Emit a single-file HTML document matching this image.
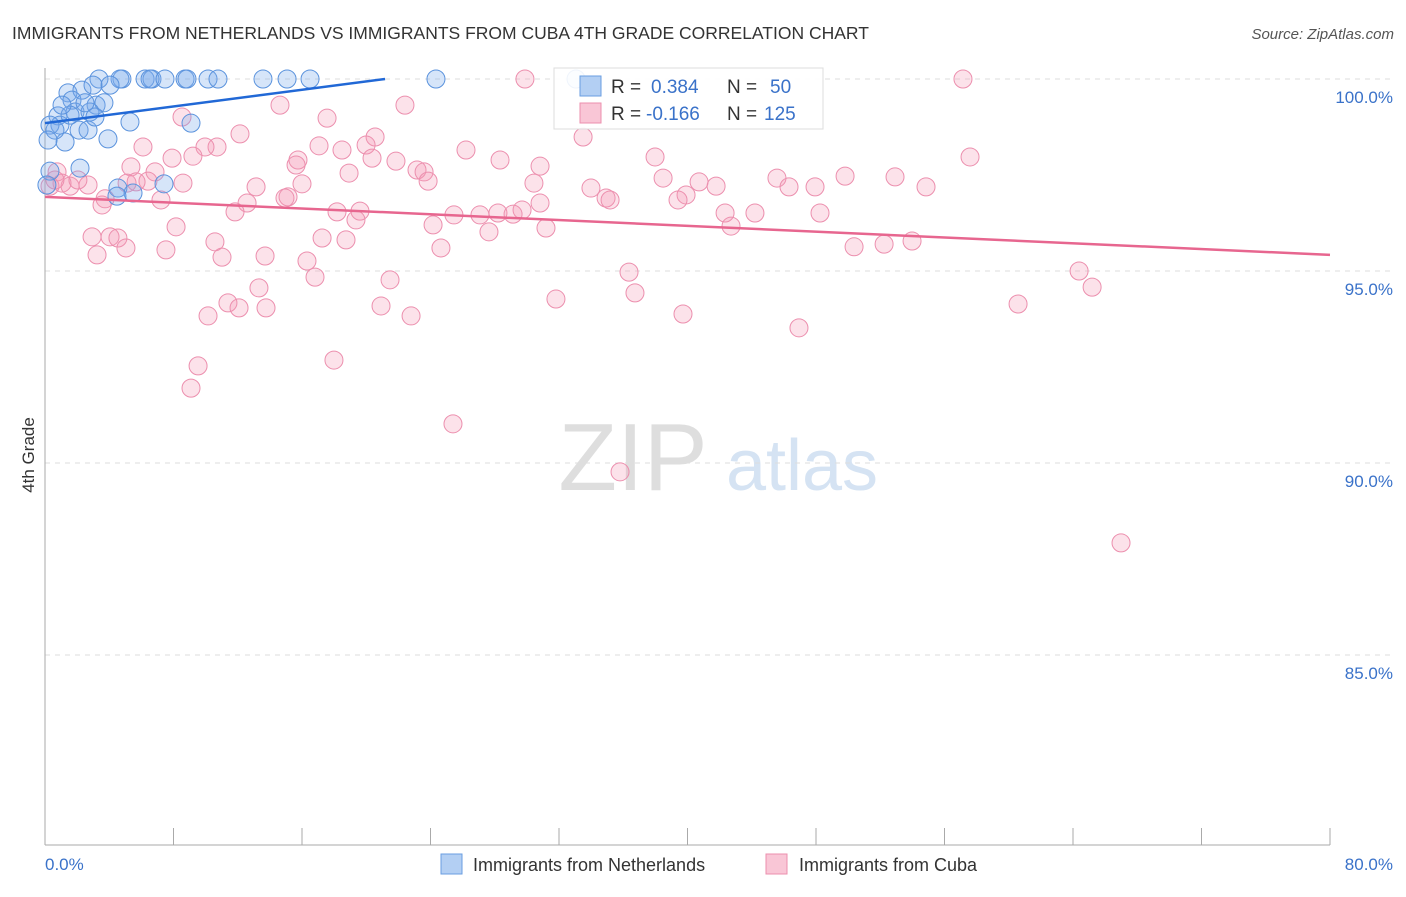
<!DOCTYPE html>
<html><head><meta charset="utf-8"><style>
body{margin:0;background:#fff;font-family:"Liberation Sans",sans-serif;}
svg text{font-family:"Liberation Sans",sans-serif;}
</style></head><body>
<svg id="chart" width="1406" height="892" viewBox="0 0 1406 892" xmlns="http://www.w3.org/2000/svg">
<text x="12" y="39" font-size="17.5" fill="#333">IMMIGRANTS FROM NETHERLANDS VS IMMIGRANTS FROM CUBA 4TH GRADE CORRELATION CHART</text>
<text x="1394" y="39" font-size="15" fill="#555" font-style="italic" text-anchor="end">Source: ZipAtlas.com</text>
<g>
<text x="633" y="490" font-size="96" fill="#dedede" text-anchor="middle" font-family="Liberation Serif">ZIP</text>
<text x="802" y="490" font-size="72" fill="#d5e3f3" text-anchor="middle">atlas</text>
</g>
<g id="grid"></g>
<line x1="45" y1="68" x2="45" y2="845" stroke="#aaa" stroke-width="1"/>
<line x1="45" y1="845" x2="1330" y2="845" stroke="#aaa" stroke-width="1"/>
<g id="xticks"></g>
<g id="ylabels"></g>
<text x="34" y="455" font-size="17" fill="#333" text-anchor="middle" transform="rotate(-90 34 455)">4th Grade</text>
<text x="45" y="870" font-size="17" fill="#3a72c9">0.0%</text>
<text x="1393" y="870" font-size="17" fill="#3a72c9" text-anchor="end">80.0%</text>
<g id="pink"></g>
<g id="blue"></g>
<g id="trends"></g>
<g>
<rect x="554" y="68" width="269" height="61" fill="#fff" fill-opacity="0.9" stroke="#ddd"/>
<rect x="580" y="76" width="21" height="20" fill="#b3cff3" stroke="#6a9ee0"/>
<rect x="580" y="103" width="21" height="20" fill="#f9c6d6" stroke="#ec8fae"/>
<text x="611" y="93" font-size="19" fill="#333">R = </text><text x="651" y="93" font-size="19" fill="#3a72c9">0.384</text>
<text x="727" y="93" font-size="19" fill="#333">N = </text><text x="770" y="93" font-size="19" fill="#3a72c9">50</text>
<text x="611" y="120" font-size="19" fill="#333">R = </text><text x="646" y="120" font-size="19" fill="#3a72c9">-0.166</text>
<text x="727" y="120" font-size="19" fill="#333">N = </text><text x="764" y="120" font-size="19" fill="#3a72c9">125</text>
</g>
<g>
<g><rect x="441" y="854" width="21" height="20" fill="#b3cff3" stroke="#6a9ee0"/><text x="473" y="871" font-size="18" fill="#333">Immigrants from Netherlands</text></g>
<g><rect x="766" y="854" width="21" height="20" fill="#f9c6d6" stroke="#ec8fae"/><text x="799" y="871" font-size="18" fill="#333">Immigrants from Cuba</text></g>
</g>
</svg>
<script>
const yTicks=[100,95,90,85];
const yTickLabels=["100.0%","95.0%","90.0%","85.0%"];
const xTickCount=10;
const blueX=[3.36,4.79,4.67,6.23,6.66,6.54,7.47,8.72,8.84,10.15,10.77,13.57,15.07,16.5,24.34,33.06,1.43,2.3,2.99,4.05,3.18,3.67,1.68,0.81,1.87,2.8,0.93,0.31,2.12,2.68,1.25,0.62,0.19,5.29,3.92,9.09,3.11,2.18,0.31,4.54,5.48,7.41,4.48,0.12,1.56,2.49,1.06];
const blueY=[100,100,100,100,100,100,100,100,100,100,100,100,100,100,100,100,99.64,99.71,99.84,99.84,99.32,99.38,99.45,99.04,99.14,99.14,98.8,98.8,98.67,98.67,98.36,98.67,98.41,98.88,98.44,98.85,99.01,97.68,97.6,97.16,97.03,97.27,96.95,97.24,99.06,99.38,99.32];
const pinkX=[29.88,57.15,14.63,22.41,8.53,17.56,20.55,33.5,6.1,10.71,9.96,12.14,17.06,18.49,19.99,26.21,20.36,15.75,15.63,21.85,28.33,30.82,37.98,57.59,5.35,6.85,9.21,7.91,18.93,23.16,23.6,23.85,38.48,40.72,41.78,45.57,46.32,47.94,49.81,52.92,54.85,30.44,33.99,34.93,35.18,39.91,39.41,13.14,16,8.59,6.41,5.11,5.67,2.68,1.56,1.06,0.75,2.05,3.74,3.55,7.22,15.13,14.94,12.58,11.83,18.18,19.61,19.36,27.08,28.2,29.7,30.82,25.46,29.14,31.19,27.64,24.16,42.34,44.2,42.71,48.25,8.16,2.93,4.05,4.54,10.58,17.25,18.74,24.65,5.04,7.53,11.02,13.7,16.31,50.37,52.24,53.98,3.24,16.81,21.48,36.36,64.38,65.19,31.81,36.73,13.32,11.39,12.08,13.76,20.92,22.79,10.15,39.72,60.58,46.94,17.99,9.53,9.09,25.4,35.8,66.99,0.31,0.62];
const pinkY=[100,100,99.32,99.32,99.01,98.98,98.49,98.49,98.23,98.23,98.23,98.57,98.26,98.15,98.28,98.15,97.94,97.89,97.76,97.86,97.89,97.73,97.97,97.97,97.71,97.58,97.99,97.94,97.55,97.63,97.58,97.34,97.42,97.32,97.21,97.42,97.19,97.19,97.47,97.45,97.19,97.29,97.16,96.9,96.85,96.98,96.85,97.19,97.27,97.29,97.34,97.29,97.32,97.24,97.21,97.29,97.58,97.37,96.88,96.72,96.85,96.93,96.9,96.77,96.54,96.54,96.56,96.33,96.46,96.51,96.59,96.77,96.46,96.48,96.12,96.02,96.2,96.51,96.51,96.17,96.51,96.15,95.89,95.89,95.86,95.76,95.86,95.81,95.6,95.6,95.55,95.36,95.39,95.26,95.63,95.7,95.78,95.42,94.84,94.77,94.97,95,94.58,94.27,94.43,94.56,94.17,94.04,94.04,94.09,93.83,93.83,93.88,94.14,93.52,92.68,92.53,91.95,91.02,89.77,87.92,97.21,97.37];
const blueTrend=[0,98.85,21.17,100];
const pinkTrend=[0,96.93,80,95.42];
const NS="http://www.w3.org/2000/svg";
const xS=v=>45+v/80*1285;
const yS=v=>79+(100-v)*38.4;
function mk(tag,attrs,parent){const e=document.createElementNS(NS,tag);for(const k in attrs)e.setAttribute(k,attrs[k]);parent.appendChild(e);return e;}
const grid=document.getElementById('grid'),yl=document.getElementById('ylabels');
yTicks.forEach((t,i)=>{
 const l=mk('line',{x1:45,x2:1394,y1:yS(t),y2:yS(t),stroke:'#ddd','stroke-dasharray':'5,5'},grid);
 
 
 const tx=mk('text',{x:1393,y:yS(t)+24,'font-size':17,fill:'#3a72c9','text-anchor':'end'},yl);
 tx.textContent=yTickLabels[i];
 
 
});
const xt=document.getElementById('xticks');
for(let i=0;i<=xTickCount;i++){
 const x=xS(i*80/xTickCount);
 const l=mk('line',{x1:x,x2:x,y1:828,y2:845,stroke:'#aaa'},xt);
 
 
}
const pg=document.getElementById('pink');
pinkX.forEach((v,i)=>{
 const c=mk('circle',{cx:xS(v),cy:yS(pinkY[i]),r:9,fill:'rgba(244,150,180,0.28)',stroke:'#ec8fae','stroke-width':1},pg);
 
 
});
const bg=document.getElementById('blue');
blueX.forEach((v,i)=>{
 const c=mk('circle',{cx:xS(v),cy:yS(blueY[i]),r:9,fill:'rgba(120,170,235,0.3)',stroke:'#5b93dd','stroke-width':1},bg);
 
 
});
const tg=document.getElementById('trends');
const bt=mk('line',{x1:xS(blueTrend[0]),y1:yS(blueTrend[1]),x2:xS(blueTrend[2]),y2:yS(blueTrend[3]),stroke:'#2168d6','stroke-width':2.5},tg);


const pt=mk('line',{x1:xS(pinkTrend[0]),y1:yS(pinkTrend[1]),x2:xS(pinkTrend[2]),y2:yS(pinkTrend[3]),stroke:'#e7668f','stroke-width':2.5},tg);


</script>
</body></html>
